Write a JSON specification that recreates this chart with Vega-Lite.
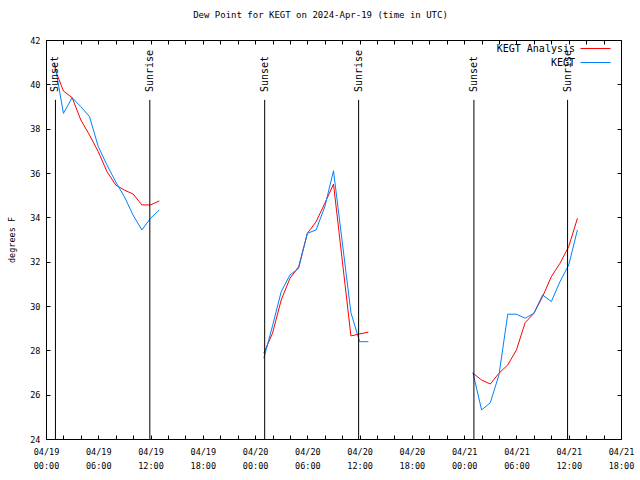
{
  "$schema": "https://vega.github.io/schema/vega-lite/v6.json",
  "width": 575,
  "height": 399,
  "autosize": {"type": "none"},
  "padding": {"left": 46, "top": 40, "right": 19, "bottom": 41},
  "title": {"text": "Dew Point for KEGT on 2024-Apr-19 (time in UTC)", "anchor": "middle", "dx": -13, "offset": 16, "font": "DejaVu Sans Mono", "fontSize": 9, "fontWeight": "normal", "color": "black"},
  "datasets": {
    "obs": [
      {"t": "2024-04-19T01:00:00Z", "v": 40.72, "s": "KEGT Analysis", "seg": 1},
      {"t": "2024-04-19T02:00:00Z", "v": 39.7, "s": "KEGT Analysis", "seg": 1},
      {"t": "2024-04-19T03:00:00Z", "v": 39.4, "s": "KEGT Analysis", "seg": 1},
      {"t": "2024-04-19T04:00:00Z", "v": 38.39, "s": "KEGT Analysis", "seg": 1},
      {"t": "2024-04-19T05:00:00Z", "v": 37.71, "s": "KEGT Analysis", "seg": 1},
      {"t": "2024-04-19T06:00:00Z", "v": 36.96, "s": "KEGT Analysis", "seg": 1},
      {"t": "2024-04-19T07:00:00Z", "v": 36.06, "s": "KEGT Analysis", "seg": 1},
      {"t": "2024-04-19T08:00:00Z", "v": 35.46, "s": "KEGT Analysis", "seg": 1},
      {"t": "2024-04-19T09:00:00Z", "v": 35.23, "s": "KEGT Analysis", "seg": 1},
      {"t": "2024-04-19T10:00:00Z", "v": 35.05, "s": "KEGT Analysis", "seg": 1},
      {"t": "2024-04-19T11:00:00Z", "v": 34.56, "s": "KEGT Analysis", "seg": 1},
      {"t": "2024-04-19T12:00:00Z", "v": 34.56, "s": "KEGT Analysis", "seg": 1},
      {"t": "2024-04-19T13:00:00Z", "v": 34.74, "s": "KEGT Analysis", "seg": 1},
      {"t": "2024-04-19T01:00:00Z", "v": 40.95, "s": "KEGT", "seg": 1},
      {"t": "2024-04-19T02:00:00Z", "v": 38.69, "s": "KEGT", "seg": 1},
      {"t": "2024-04-19T03:00:00Z", "v": 39.4, "s": "KEGT", "seg": 1},
      {"t": "2024-04-19T04:00:00Z", "v": 38.99, "s": "KEGT", "seg": 1},
      {"t": "2024-04-19T05:00:00Z", "v": 38.54, "s": "KEGT", "seg": 1},
      {"t": "2024-04-19T06:00:00Z", "v": 37.19, "s": "KEGT", "seg": 1},
      {"t": "2024-04-19T07:00:00Z", "v": 36.36, "s": "KEGT", "seg": 1},
      {"t": "2024-04-19T08:00:00Z", "v": 35.6, "s": "KEGT", "seg": 1},
      {"t": "2024-04-19T09:00:00Z", "v": 34.93, "s": "KEGT", "seg": 1},
      {"t": "2024-04-19T10:00:00Z", "v": 34.1, "s": "KEGT", "seg": 1},
      {"t": "2024-04-19T11:00:00Z", "v": 33.43, "s": "KEGT", "seg": 1},
      {"t": "2024-04-19T12:00:00Z", "v": 33.96, "s": "KEGT", "seg": 1},
      {"t": "2024-04-19T13:00:00Z", "v": 34.33, "s": "KEGT", "seg": 1},
      {"t": "2024-04-20T01:00:00Z", "v": 27.87, "s": "KEGT Analysis", "seg": 2},
      {"t": "2024-04-20T02:00:00Z", "v": 28.77, "s": "KEGT Analysis", "seg": 2},
      {"t": "2024-04-20T03:00:00Z", "v": 30.27, "s": "KEGT Analysis", "seg": 2},
      {"t": "2024-04-20T04:00:00Z", "v": 31.25, "s": "KEGT Analysis", "seg": 2},
      {"t": "2024-04-20T05:00:00Z", "v": 31.77, "s": "KEGT Analysis", "seg": 2},
      {"t": "2024-04-20T06:00:00Z", "v": 33.28, "s": "KEGT Analysis", "seg": 2},
      {"t": "2024-04-20T07:00:00Z", "v": 33.8, "s": "KEGT Analysis", "seg": 2},
      {"t": "2024-04-20T08:00:00Z", "v": 34.63, "s": "KEGT Analysis", "seg": 2},
      {"t": "2024-04-20T09:00:00Z", "v": 35.5, "s": "KEGT Analysis", "seg": 2},
      {"t": "2024-04-20T10:00:00Z", "v": 32.08, "s": "KEGT Analysis", "seg": 2},
      {"t": "2024-04-20T11:00:00Z", "v": 28.65, "s": "KEGT Analysis", "seg": 2},
      {"t": "2024-04-20T12:00:00Z", "v": 28.74, "s": "KEGT Analysis", "seg": 2},
      {"t": "2024-04-20T13:00:00Z", "v": 28.82, "s": "KEGT Analysis", "seg": 2},
      {"t": "2024-04-20T01:00:00Z", "v": 27.64, "s": "KEGT", "seg": 2},
      {"t": "2024-04-20T02:00:00Z", "v": 29.1, "s": "KEGT", "seg": 2},
      {"t": "2024-04-20T03:00:00Z", "v": 30.65, "s": "KEGT", "seg": 2},
      {"t": "2024-04-20T04:00:00Z", "v": 31.4, "s": "KEGT", "seg": 2},
      {"t": "2024-04-20T05:00:00Z", "v": 31.7, "s": "KEGT", "seg": 2},
      {"t": "2024-04-20T06:00:00Z", "v": 33.28, "s": "KEGT", "seg": 2},
      {"t": "2024-04-20T07:00:00Z", "v": 33.43, "s": "KEGT", "seg": 2},
      {"t": "2024-04-20T08:00:00Z", "v": 34.48, "s": "KEGT", "seg": 2},
      {"t": "2024-04-20T09:00:00Z", "v": 36.1, "s": "KEGT", "seg": 2},
      {"t": "2024-04-20T10:00:00Z", "v": 32.9, "s": "KEGT", "seg": 2},
      {"t": "2024-04-20T11:00:00Z", "v": 29.7, "s": "KEGT", "seg": 2},
      {"t": "2024-04-20T12:00:00Z", "v": 28.39, "s": "KEGT", "seg": 2},
      {"t": "2024-04-20T13:00:00Z", "v": 28.39, "s": "KEGT", "seg": 2},
      {"t": "2024-04-21T01:00:00Z", "v": 26.97, "s": "KEGT Analysis", "seg": 3},
      {"t": "2024-04-21T02:00:00Z", "v": 26.66, "s": "KEGT Analysis", "seg": 3},
      {"t": "2024-04-21T03:00:00Z", "v": 26.48, "s": "KEGT Analysis", "seg": 3},
      {"t": "2024-04-21T04:00:00Z", "v": 26.97, "s": "KEGT Analysis", "seg": 3},
      {"t": "2024-04-21T05:00:00Z", "v": 27.34, "s": "KEGT Analysis", "seg": 3},
      {"t": "2024-04-21T06:00:00Z", "v": 28.02, "s": "KEGT Analysis", "seg": 3},
      {"t": "2024-04-21T07:00:00Z", "v": 29.25, "s": "KEGT Analysis", "seg": 3},
      {"t": "2024-04-21T08:00:00Z", "v": 29.67, "s": "KEGT Analysis", "seg": 3},
      {"t": "2024-04-21T09:00:00Z", "v": 30.42, "s": "KEGT Analysis", "seg": 3},
      {"t": "2024-04-21T10:00:00Z", "v": 31.32, "s": "KEGT Analysis", "seg": 3},
      {"t": "2024-04-21T11:00:00Z", "v": 31.93, "s": "KEGT Analysis", "seg": 3},
      {"t": "2024-04-21T12:00:00Z", "v": 32.68, "s": "KEGT Analysis", "seg": 3},
      {"t": "2024-04-21T13:00:00Z", "v": 33.96, "s": "KEGT Analysis", "seg": 3},
      {"t": "2024-04-21T01:00:00Z", "v": 27.0, "s": "KEGT", "seg": 3},
      {"t": "2024-04-21T02:00:00Z", "v": 25.31, "s": "KEGT", "seg": 3},
      {"t": "2024-04-21T03:00:00Z", "v": 25.64, "s": "KEGT", "seg": 3},
      {"t": "2024-04-21T04:00:00Z", "v": 26.9, "s": "KEGT", "seg": 3},
      {"t": "2024-04-21T05:00:00Z", "v": 29.63, "s": "KEGT", "seg": 3},
      {"t": "2024-04-21T06:00:00Z", "v": 29.63, "s": "KEGT", "seg": 3},
      {"t": "2024-04-21T07:00:00Z", "v": 29.45, "s": "KEGT", "seg": 3},
      {"t": "2024-04-21T08:00:00Z", "v": 29.67, "s": "KEGT", "seg": 3},
      {"t": "2024-04-21T09:00:00Z", "v": 30.5, "s": "KEGT", "seg": 3},
      {"t": "2024-04-21T10:00:00Z", "v": 30.2, "s": "KEGT", "seg": 3},
      {"t": "2024-04-21T11:00:00Z", "v": 31.1, "s": "KEGT", "seg": 3},
      {"t": "2024-04-21T12:00:00Z", "v": 31.85, "s": "KEGT", "seg": 3},
      {"t": "2024-04-21T13:00:00Z", "v": 33.43, "s": "KEGT", "seg": 3}
    ],
    "sun": [
      {"t": "2024-04-19T01:05:00Z", "label": "Sunset"},
      {"t": "2024-04-19T11:55:00Z", "label": "Sunrise"},
      {"t": "2024-04-20T01:06:00Z", "label": "Sunset"},
      {"t": "2024-04-20T11:53:00Z", "label": "Sunrise"},
      {"t": "2024-04-21T01:07:00Z", "label": "Sunset"},
      {"t": "2024-04-21T11:52:00Z", "label": "Sunrise"}
    ]
  },
  "layer": [
    {
      "data": {"name": "obs"},
      "mark": {"type": "line", "strokeWidth": 1},
      "encoding": {
        "x": {"field": "t", "type": "temporal", "scale": {"type": "utc", "domain": [{"year": 2024, "month": 4, "date": 19, "hours": 0, "utc": true}, {"year": 2024, "month": 4, "date": 21, "hours": 18, "utc": true}], "nice": false},
          "axis": {"orient": "bottom", "title": null,
            "values": [1713484800000, 1713492000000, 1713499200000, 1713506400000, 1713513600000, 1713520800000, 1713528000000, 1713535200000, 1713542400000, 1713549600000, 1713556800000, 1713564000000, 1713571200000, 1713578400000, 1713585600000, 1713592800000, 1713600000000, 1713607200000, 1713614400000, 1713621600000, 1713628800000, 1713636000000, 1713643200000, 1713650400000, 1713657600000, 1713664800000, 1713672000000, 1713679200000, 1713686400000, 1713693600000, 1713700800000, 1713708000000, 1713715200000, 1713722400000],
            "labelExpr": "utchours(datum.value) % 6 == 0 ? [utcFormat(datum.value, '%m/%d'), utcFormat(datum.value, '%H:%M')] : ''", "labelLineHeight": 14, "labelFlush": false, "labelOverlap": false, "labelPadding": 8}},
        "y": {"field": "v", "type": "quantitative", "scale": {"domain": [24, 42], "nice": false, "zero": false},
          "axis": {"orient": "left", "title": "degrees F", "values": [24, 26, 28, 30, 32, 34, 36, 38, 40, 42], "titlePadding": 13, "labelPadding": 6}},
        "color": {"field": "s", "type": "nominal", "scale": {"domain": ["KEGT Analysis", "KEGT"], "range": ["#ff0000", "#0080ff"]},
          "legend": {"orient": "none", "legendX": 544, "legendY": 3, "title": null, "symbolType": "M-3,0H3", "symbolSize": 100, "symbolStrokeWidth": 1, "symbolFillColor": "transparent", "labelAlign": "right", "labelOffset": -26, "labelFont": "DejaVu Sans Mono", "labelFontSize": 10, "labelColor": "black", "rowPadding": 3,
            "encode": {"symbols": {"update": {"stroke": {"scale": "color", "field": "value"}, "strokeWidth": {"value": 1}}}}}},
        "detail": {"field": "seg", "type": "nominal"}
      }
    },
    {
      "data": {"name": "sun"},
      "mark": {"type": "rule", "color": "black", "strokeWidth": 1},
      "encoding": {
        "x": {"field": "t", "type": "temporal", "axis": null},
        "y": {"datum": 39.3, "type": "quantitative", "axis": null},
        "y2": {"datum": 24}
      }
    },
    {
      "data": {"name": "sun"},
      "mark": {"type": "text", "angle": 270, "align": "left", "baseline": "middle", "font": "DejaVu Sans Mono", "fontSize": 10, "color": "black"},
      "encoding": {
        "x": {"field": "t", "type": "temporal", "axis": null},
        "y": {"datum": 39.65, "type": "quantitative", "axis": null},
        "text": {"field": "label"}
      }
    },
    {
      "data": {"name": "obs"},
      "mark": {"type": "point", "opacity": 0},
      "encoding": {
        "x": {"field": "t", "type": "temporal", "axis": {"orient": "top", "title": null, "labels": false,
          "values": [1713484800000, 1713492000000, 1713499200000, 1713506400000, 1713513600000, 1713520800000, 1713528000000, 1713535200000, 1713542400000, 1713549600000, 1713556800000, 1713564000000, 1713571200000, 1713578400000, 1713585600000, 1713592800000, 1713600000000, 1713607200000, 1713614400000, 1713621600000, 1713628800000, 1713636000000, 1713643200000, 1713650400000, 1713657600000, 1713664800000, 1713672000000, 1713679200000, 1713686400000, 1713693600000, 1713700800000, 1713708000000, 1713715200000, 1713722400000]}},
        "y": {"field": "v", "type": "quantitative", "axis": {"orient": "right", "title": null, "labels": false, "values": [24, 26, 28, 30, 32, 34, 36, 38, 40, 42]}}
      }
    }
  ],
  "resolve": {"axis": {"x": "independent", "y": "independent"}},
  "config": {
    "view": {"stroke": "black", "strokeWidth": 1},
    "font": "DejaVu Sans Mono",
    "axis": {"grid": false, "domain": false, "tickColor": "black", "labelColor": "black", "titleColor": "black", "labelFont": "DejaVu Sans Mono", "labelFontSize": 8.5, "titleFont": "DejaVu Sans Mono", "titleFontSize": 8.5, "titleFontWeight": "normal", "tickSize": 4, "offset": -4}
  }
}
